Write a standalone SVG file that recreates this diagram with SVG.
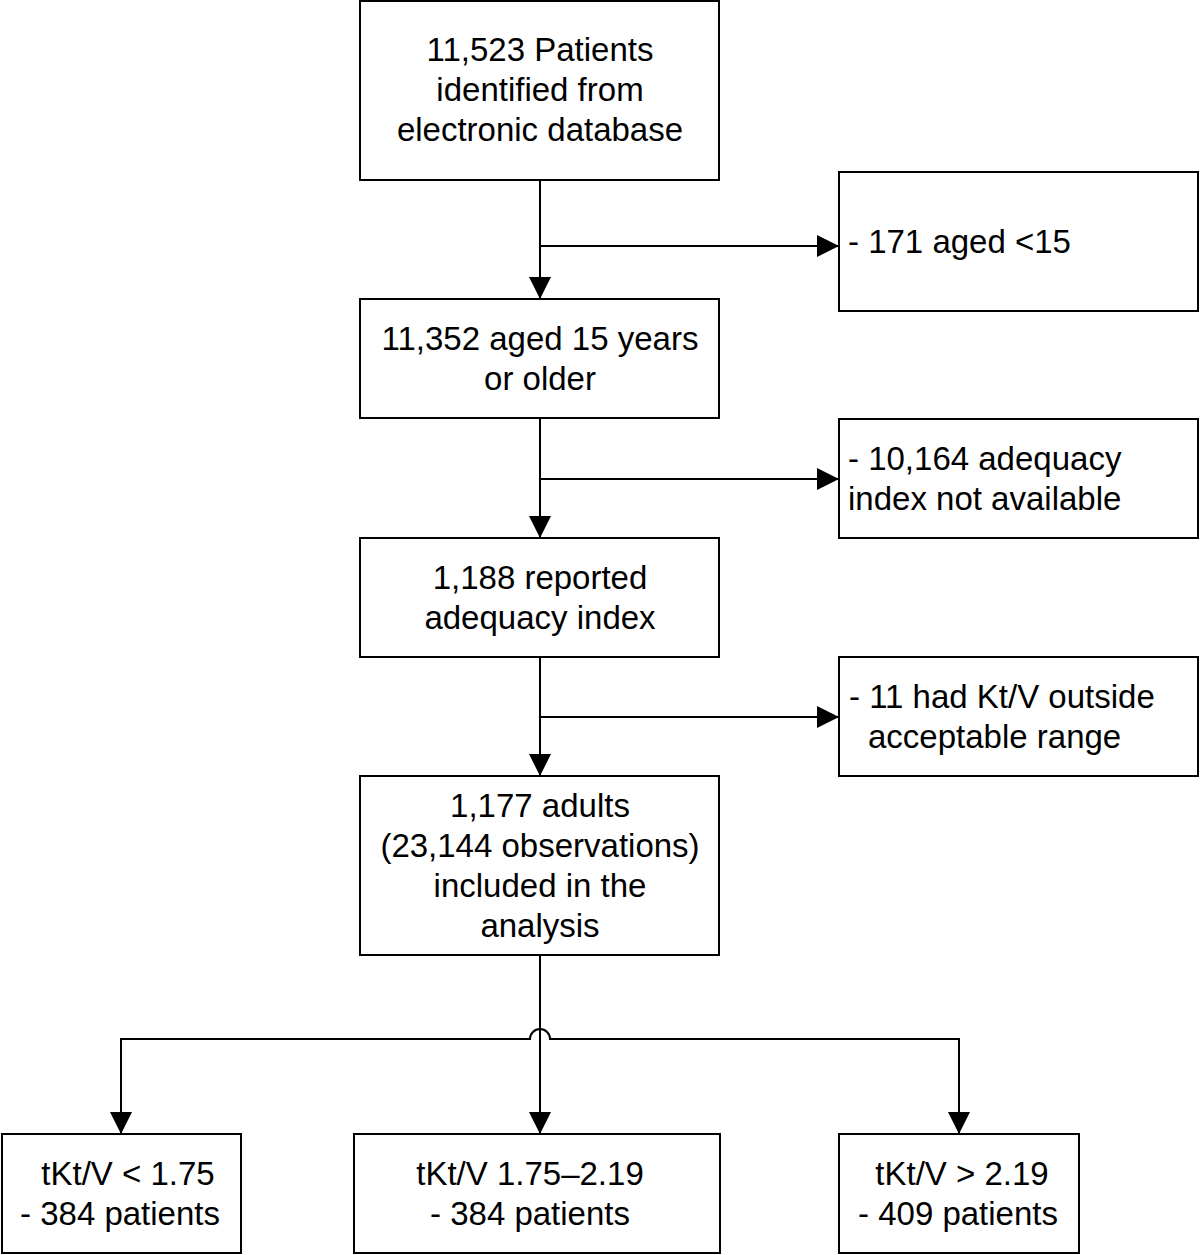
<svg xmlns="http://www.w3.org/2000/svg" width="1200" height="1255" viewBox="0 0 1200 1255">
<style>
.box{fill:#fff;stroke:#000;stroke-width:2}
.ln{fill:none;stroke:#000;stroke-width:2}
text{font-family:"Liberation Sans",Arial,sans-serif;font-size:33px;fill:#000}
.c{text-anchor:middle}
</style>
<defs>
<marker id="ah" markerWidth="22" markerHeight="22" refX="22" refY="11" orient="auto" markerUnits="userSpaceOnUse">
<path d="M0,0 L22,11 L0,22 Z" fill="#000"/>
</marker>
</defs>
<rect width="1200" height="1255" fill="#fff"/>
<g id="connectors">
<path class="ln" d="M540,180 V299" marker-end="url(#ah)"/>
<path class="ln" d="M540,246 H839" marker-end="url(#ah)"/>
<path class="ln" d="M540,418 V538" marker-end="url(#ah)"/>
<path class="ln" d="M540,479 H839" marker-end="url(#ah)"/>
<path class="ln" d="M540,657 V776" marker-end="url(#ah)"/>
<path class="ln" d="M540,717 H839" marker-end="url(#ah)"/>
<path class="ln" d="M540,955 V1134" marker-end="url(#ah)"/>
<path class="ln" d="M121,1134 V1039 H530 A10,10 0 0 1 550,1039 H959 V1134" marker-end="url(#ah)"/>
<path class="ln" d="M121,1060 V1134" marker-end="url(#ah)"/>
</g>
<g id="n1"><rect class="box" x="360" y="1" width="359" height="179"/>
<text class="c" x="540" y="61">11,523 Patients</text>
<text class="c" x="540" y="101">identified from</text>
<text class="c" x="540" y="141">electronic database</text></g>
<g id="n2"><rect class="box" x="360" y="299" width="359" height="119"/>
<text class="c" x="540" y="350">11,352 aged 15 years</text>
<text class="c" x="540" y="390">or older</text></g>
<g id="n3"><rect class="box" x="360" y="538" width="359" height="119"/>
<text class="c" x="540" y="589">1,188 reported</text>
<text class="c" x="540" y="629">adequacy index</text></g>
<g id="n4"><rect class="box" x="360" y="776" width="359" height="179"/>
<text class="c" x="540" y="817">1,177 adults</text>
<text class="c" x="540" y="857">(23,144 observations)</text>
<text class="c" x="540" y="897">included in the</text>
<text class="c" x="540" y="937">analysis</text></g>
<g id="e1"><rect class="box" x="839" y="172" width="359" height="139"/>
<text x="848" y="253">- 171 aged &lt;15</text></g>
<g id="e2"><rect class="box" x="839" y="419" width="359" height="119"/>
<text x="848" y="470">- 10,164 adequacy</text>
<text x="848" y="510">index not available</text></g>
<g id="e3"><rect class="box" x="839" y="657" width="359" height="119"/>
<text x="849" y="708">- 11 had Kt/V outside</text>
<text x="868" y="748">acceptable range</text></g>
<g id="b1"><rect class="box" x="2" y="1134" width="239" height="119"/>
<text class="c" x="128" y="1185">tKt/V &lt; 1.75</text>
<text class="c" x="120" y="1225">- 384 patients</text></g>
<g id="b2"><rect class="box" x="354" y="1134" width="366" height="119"/>
<text class="c" x="530" y="1185">tKt/V 1.75–2.19</text>
<text class="c" x="530" y="1225">- 384 patients</text></g>
<g id="b3"><rect class="box" x="839" y="1134" width="240" height="119"/>
<text class="c" x="962" y="1185">tKt/V &gt; 2.19</text>
<text class="c" x="958" y="1225">- 409 patients</text></g>
</svg>
